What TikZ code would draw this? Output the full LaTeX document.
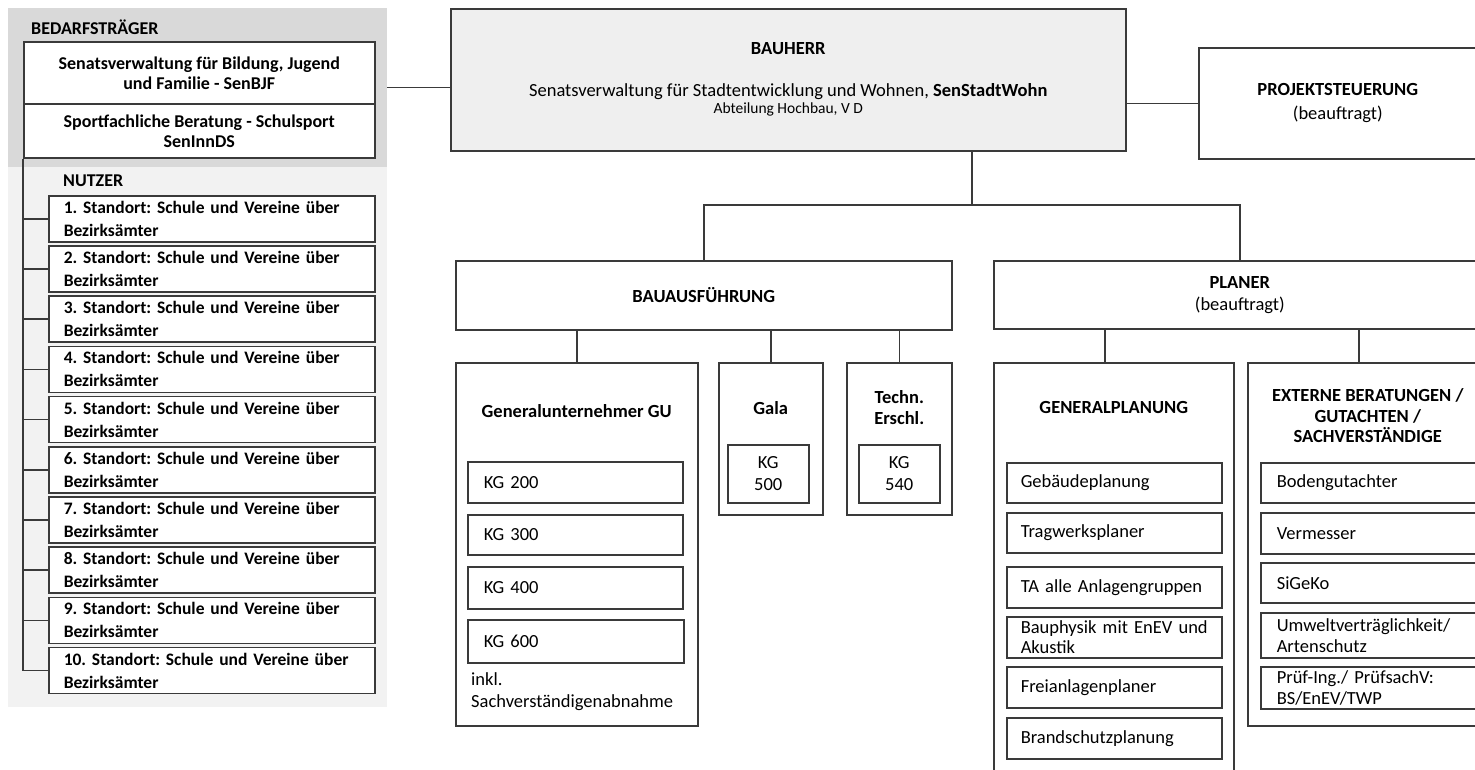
\documentclass[tikz,border=0pt]{standalone}
\usepackage{fontspec}
\setmainfont{Carlito}
\usetikzlibrary{calc}
\definecolor{linec}{HTML}{3A3A3A}
\definecolor{bedarfgray}{HTML}{D9D9D9}
\definecolor{nutzergray}{HTML}{F2F2F2}
\definecolor{herrgray}{HTML}{EFEFEF}

\tikzset{
  box/.style={draw=linec, line width=1.5pt, fill=white, anchor=north west, inner sep=0pt, align=center},
  item/.style 2 args={box, inner xsep=#2, text width=#1-2*#2, align=left},
  conn/.style={draw=linec, line width=1.5pt},
  head/.style={inner sep=0pt, align=center, font=\bfseries\fontsize{18.5}{21}\selectfont},
  panel/.style={font=\bfseries\fontsize{18}{20}\selectfont},
}

\begin{document}
\frenchspacing
\begin{tikzpicture}[x=1pt, y=-1pt, font=\fontsize{18.5}{22}\selectfont]
\useasboundingbox (0,0) rectangle (1475,769);
\clip (0,0) rectangle (1475,769);

% Bedarfstraeger und Nutzer
\node[fill=bedarfgray, anchor=north west, minimum width=379, minimum height=159, inner sep=0pt] (bedarf) at (8,8) {};
\node[fill=nutzergray, anchor=north west, minimum width=379, minimum height=540, inner sep=0pt] (nutzerbg) at (8,167) {};
\node[anchor=west, inner sep=0pt, panel] (bedarftitle) at (31,27) {BEDARFSTRÄGER};
\node[box, minimum width=351, minimum height=62, panel] (senbjf) at (23,41) {Senatsverwaltung für Bildung, Jugend\\und Familie - SenBJF};
\node[box, minimum width=351, minimum height=54, panel] (seninn) at (23,103) {Sportfachliche Beratung - Schulsport\\SenInnDS};
\node[anchor=west, inner sep=0pt, panel] (nutzertitle) at (63,181) {NUTZER};
\foreach \i in {1,...,10}{
  \node[item={326}{15}, minimum height=46, font=\bfseries\fontsize{17.5}{23}\selectfont] (n\i) at (48,{195+50.2*(\i-1)}) {\i.\ Standort: Schule und Vereine über\\Bezirksämter};
  \draw[conn] (n\i.west) -- (n\i.west -| seninn.south west);
}
\draw[conn] (seninn.south west) -- (seninn.south west |- n10.west);

% Bauherr und Projektsteuerung
\node[box, fill=herrgray, minimum width=675, minimum height=142] (bauherr) at (450,8) {\textbf{BAUHERR}\\[20pt]Senatsverwaltung für Stadtentwicklung und Wohnen, \textbf{SenStadtWohn}\\[-5pt]{\fontsize{15.5}{18}\selectfont Abteilung Hochbau, V D}};
\node[box, minimum width=278, minimum height=111] (projekt) at (1198,47) {\textbf{PROJEKTSTEUERUNG}\\[2pt](beauftragt)};
\draw[conn] (bedarf.east) -- (bedarf.east -| bauherr.west);
\draw[conn] (projekt.west) -- (projekt.west -| bauherr.east);

% zweite Ebene
\node[box, minimum width=496, minimum height=69] (bau) at (455,260) {\textbf{BAUAUSFÜHRUNG}};
\node[box, minimum width=492, minimum height=68] (planer) at (993,260) {\textbf{PLANER}\\(beauftragt)};
\coordinate (split) at (972,205);
\draw[conn] (split |- bauherr.south) -- (split);
\draw[conn] (bau.north) |- (split) -| (planer.north);

% Bauausfuehrung
\node[box, minimum width=242, minimum height=363] (gu) at (455,362) {};
\node[box, minimum width=104, minimum height=152] (gala) at (718,362) {};
\node[box, minimum width=105, minimum height=152] (techn) at (846,362) {};
\node[head] (gutitle) at ([yshift=-49pt]gu.north) {Generalunternehmer GU};
\node[head] (galatitle) at ([yshift=-46pt]gala.north) {Gala};
\node[head] (techntitle) at ([yshift=-46pt]techn.north) {Techn.\\Erschl.};
\node[box, minimum width=81, minimum height=58] (kg500) at (727,444) {KG\\500};
\node[box, minimum width=81, minimum height=58] (kg540) at (858,444) {KG\\540};
\node[item={215}{16}, minimum height=41] (kg200) at (467,461) {KG 200};
\node[item={215}{16}, minimum height=40] (kg300) at (467,514) {KG 300};
\node[item={215}{16}, minimum height=42] (kg400) at (467,566) {KG 400};
\node[item={216}{16}, minimum height=43] (kg600) at (467,619) {KG 600};
\node[anchor=north west, align=left, inner sep=0pt] (inkl) at (471,672) {inkl.\\Sachverständigenabnahme};
\foreach \k in {gu,gala,techn}
  \draw[conn] (\k.north) -- (\k.north |- bau.south);

% Planer
\node[box, minimum width=240, minimum height=420] (gp) at (993,362) {};
\node[box, minimum width=240, minimum height=363] (ext) at (1247,362) {};
\node[head] (gptitle) at ([yshift=-45pt]gp.north) {GENERALPLANUNG};
\node[head, font=\bfseries\fontsize{18.5}{20.5}\selectfont] (exttitle) at ([yshift=-54pt]ext.north) {EXTERNE BERATUNGEN /\\GUTACHTEN /\\SACHVERSTÄNDIGE};
\draw[conn] ([xshift=-9pt]gp.north) -- ([xshift=-9pt]gp.north |- planer.south);
\draw[conn] ([xshift=-9pt]ext.north) -- ([xshift=-9pt]ext.north |- planer.south);

\node[item={215}{14}, minimum height=40] (gebaeude) at (1006,462) {Gebäudeplanung};
\node[item={215}{14}, minimum height=40] (tragwerk) at (1006,512) {Tragwerksplaner};
\node[item={215}{14}, minimum height=41] (ta) at (1006,566) {TA alle Anlagengruppen};
\node[item={215}{14}, minimum height=41, font=\fontsize{18.5}{20}\selectfont] (bauphysik) at (1006,616) {Bauphysik mit EnEV und\\Akustik};
\node[item={215}{14}, minimum height=41] (freianlagen) at (1006,666) {Freianlagenplaner};
\node[item={215}{14}, minimum height=41] (brandschutz) at (1006,717) {Brandschutzplanung};

\node[item={215}{16}, minimum height=40] (boden) at (1260,462) {Bodengutachter};
\node[item={215}{16}, minimum height=41] (vermesser) at (1260,512) {Vermesser};
\node[item={215}{16}, minimum height=40] (sigeko) at (1260,562) {SiGeKo};
\node[item={215}{16}, minimum height=45, font=\fontsize{18.5}{21}\selectfont] (umwelt) at (1260,612) {Umweltverträglichkeit/\\Artenschutz};
\node[item={215}{16}, minimum height=42, font=\fontsize{18.5}{21}\selectfont] (pruef) at (1260,666) {Prüf-Ing./ PrüfsachV:\\BS/EnEV/TWP};
\end{tikzpicture}
\end{document}
